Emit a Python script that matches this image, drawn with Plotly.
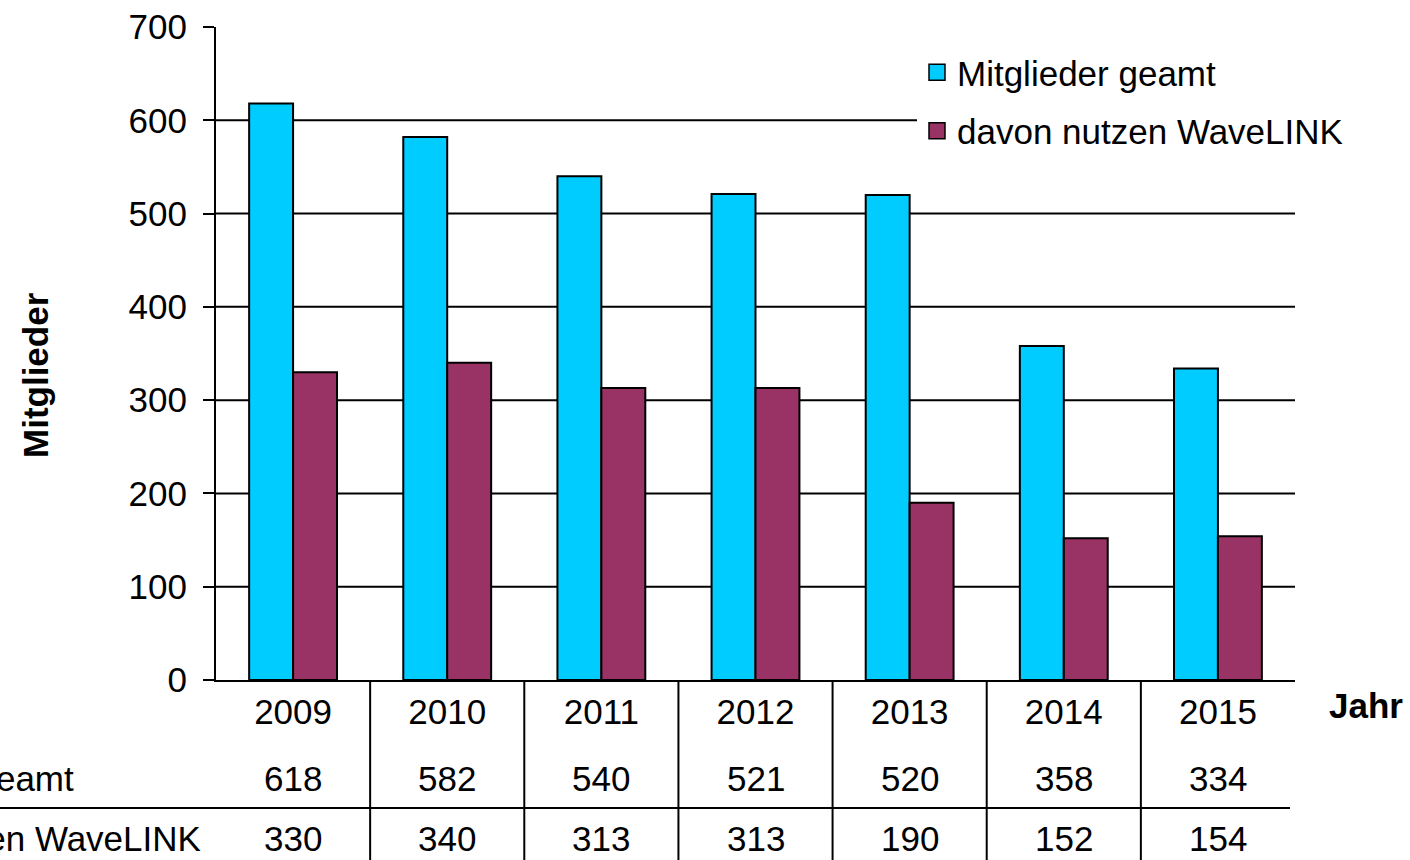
import plotly.graph_objects as go

years = ["2009", "2010", "2011", "2012", "2013", "2014", "2015"]
total_members = [618, 582, 540, 521, 520, 358, 334]
wavelink_users = [330, 340, 313, 313, 190, 152, 154]
series_names = ["Mitglieder geamt", "davon nutzen WaveLINK"]
series_colors = ["#00CCFF", "#993366"]
y_ticks = [0, 100, 200, 300, 400, 500, 600, 700]
grid_ticks = [100, 200, 300, 400, 500, 600]

FONT = "Arial, 'Liberation Sans', sans-serif"
FS = 35

W, H = 1410, 860
L, R, T, B = 216, 115, 27, 180
PW, PH = W - L - R, H - T - B

def px_to_paper_x(px):
    return (px - L) / PW

def px_to_paper_y(py):
    return (H - B - py) / PH

fig = go.Figure()
for vals, name, col in zip([total_members, wavelink_users], series_names, series_colors):
    fig.add_trace(go.Bar(x=years, y=vals, name=name, showlegend=False,
                         marker=dict(color=col, line=dict(color="black", width=2))))
# legend entries (larger square keys like the reference)
for i, (name, col) in enumerate(zip(series_names, series_colors)):
    fig.add_trace(go.Scatter(x=[None], y=[None], mode="markers", name=name,
                             legendgroup=str(i),
                             marker=dict(symbol="square", size=16, color=col,
                                         line=dict(color="black", width=1.5))))

annotations = []
txt_font = dict(size=FS, color="black", family=FONT)
for i, yr in enumerate(years):
    annotations.append(dict(x=i, y=px_to_paper_y(778), xref="x", yref="paper",
                            xanchor="center", yanchor="middle",
                            text=str(total_members[i]), showarrow=False, font=txt_font))
    annotations.append(dict(x=i, y=px_to_paper_y(838), xref="x", yref="paper",
                            xanchor="center", yanchor="middle",
                            text=str(wavelink_users[i]), showarrow=False, font=txt_font))
label_left = px_to_paper_x(-187)
for name, py in zip(series_names, [778, 838]):
    annotations.append(dict(x=label_left, y=px_to_paper_y(py), xref="paper", yref="paper",
                            text=name, showarrow=False, xanchor="left", yanchor="middle",
                            font=txt_font))
annotations.append(dict(x=px_to_paper_x(1366), y=px_to_paper_y(705), xref="paper", yref="paper",
                        xanchor="center", yanchor="middle",
                        text="<b>Jahr</b>", showarrow=False, font=txt_font))
annotations.append(dict(x=px_to_paper_x(35), y=px_to_paper_y(375), xref="paper", yref="paper",
                        xanchor="center", yanchor="middle",
                        text="<b>Mitglieder</b>", showarrow=False, textangle=-90,
                        font=txt_font))

shapes = []
# horizontal gridlines (no line at the top tick, as in the reference)
for g in grid_ticks:
    shapes.append(dict(type="line", xref="paper", yref="y", x0=0, x1=1, y0=g, y1=g,
                       layer="below", line=dict(color="black", width=2)))
# data table lines
for k in range(len(years) - 1):
    shapes.append(dict(type="line", xref="x", yref="paper", x0=k + 0.5, x1=k + 0.5,
                       y0=0, y1=px_to_paper_y(862), line=dict(color="black", width=2)))
shapes.append(dict(type="line", xref="paper", yref="paper", x0=px_to_paper_x(-2),
                   x1=px_to_paper_x(1290), y0=px_to_paper_y(808), y1=px_to_paper_y(808),
                   line=dict(color="black", width=2)))

fig.update_layout(
    width=W, height=H,
    margin=dict(l=L, r=R, t=T, b=B, pad=0, autoexpand=False),
    paper_bgcolor="white", plot_bgcolor="white",
    font=dict(family=FONT, size=FS, color="black"),
    barmode="group", bargap=0.43, bargroupgap=0,
    xaxis=dict(type="category", range=[-0.5, len(years) - 0.5], showline=True,
               linecolor="black", linewidth=2, ticks="",
               showgrid=False, tickfont=dict(size=FS, color="black"),
               ticklabelstandoff=0, automargin=False),
    yaxis=dict(range=[0, 700], tickvals=y_ticks, ticks="outside", ticklen=11,
               tickwidth=2, tickcolor="black", showline=True, linecolor="black",
               linewidth=2, showgrid=False, zeroline=False, automargin=False,
               tickfont=dict(size=FS, color="black"), ticklabelstandoff=9),
    legend=dict(x=px_to_paper_x(917), y=px_to_paper_y(43), xanchor="left", yanchor="top",
                bgcolor="white", borderwidth=0, traceorder="grouped", tracegroupgap=10,
                font=dict(size=FS, color="black", family=FONT)),
    annotations=annotations,
    shapes=shapes,
)

fig.write_html("out.html", config={"displayModeBar": False},
               post_script="document.body.style.margin='0';")
